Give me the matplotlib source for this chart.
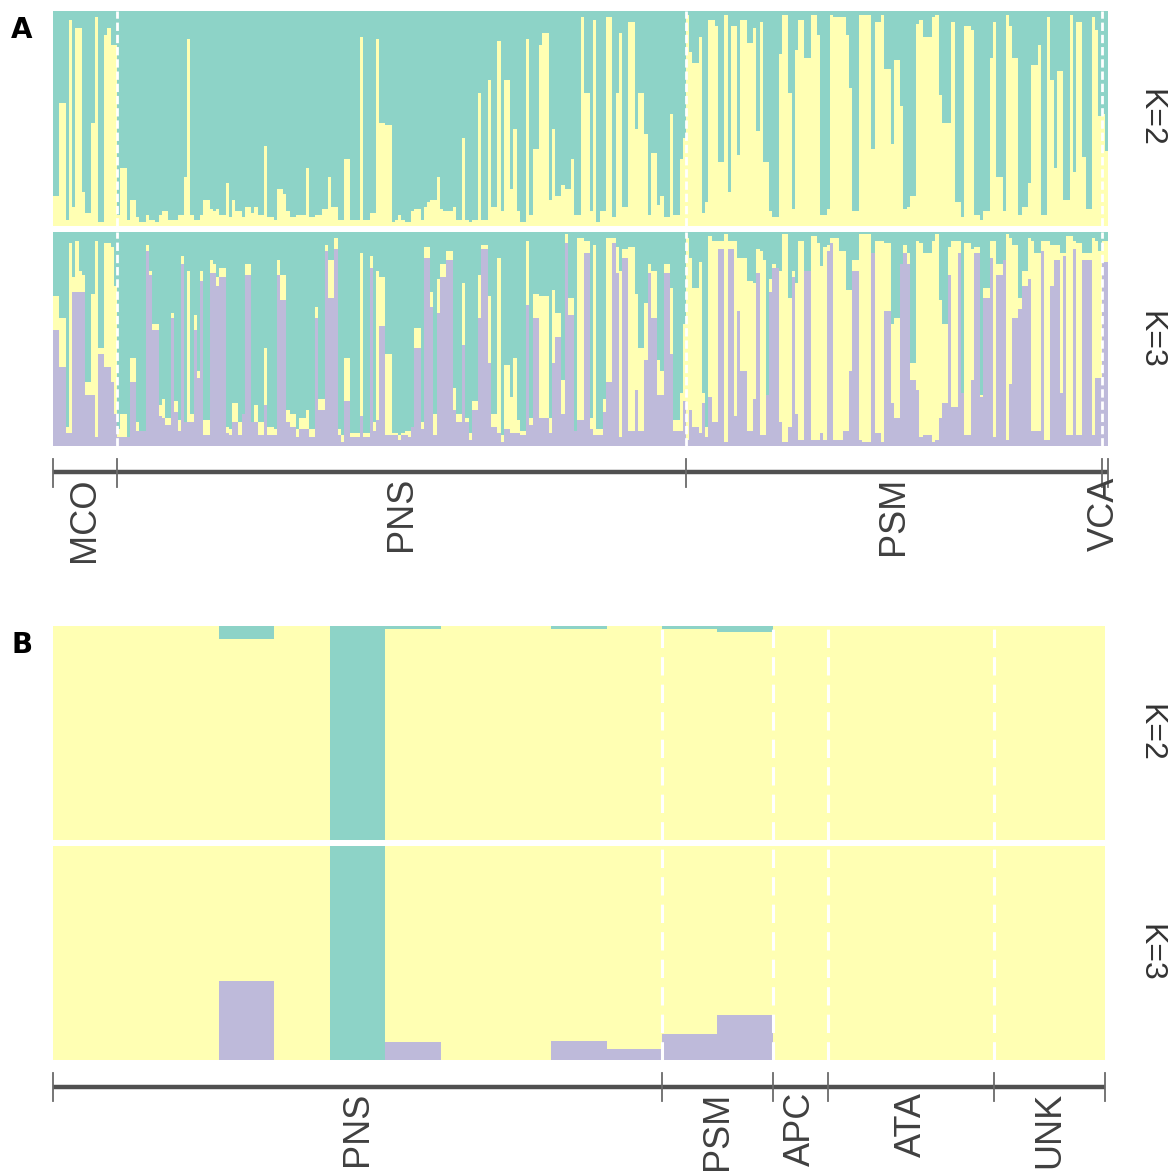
import numpy as np
import matplotlib
matplotlib.use("Agg")
import matplotlib.pyplot as plt

plt.rcParams["font.family"] = ["Liberation Sans", "DejaVu Sans"]

TEAL, YELLOW, PURPLE = "#8DD3C7", "#FFFFB3", "#BEBADA"

# ---------------- Panel A: individuals -----------------
pops_a = ["MCO", "PNS", "PSM", "VCA"]
sizes_a = [20, 178, 130, 2]

# K=2: ancestry proportion of the yellow cluster (teal = remainder)
k2_yellow_a = [
    # MCO
    0.14, 0.14, 0.57, 0.57, 0.03, 0.96, 0.09, 0.92, 0.92, 0.16, 0.06, 0.06, 0.48, 0.97, 0.02, 0.02, 0.89, 0.92, 0.84, 0.84,
    # PNS
    0.05, 0.27, 0.27, 0.03, 0.12, 0.12, 0.04, 0.02, 0.02, 0.05, 0.03, 0.03, 0.02, 0.05, 0.07, 0.07, 0.03, 0.03, 0.03, 0.05,
    0.05, 0.23, 0.87, 0.05, 0.03, 0.03, 0.05, 0.12, 0.12, 0.08, 0.07, 0.08, 0.05, 0.05, 0.20, 0.04,
    0.12, 0.07, 0.07, 0.04, 0.09, 0.09, 0.06, 0.09, 0.05, 0.05, 0.37, 0.04, 0.04, 0.03, 0.17, 0.17, 0.15, 0.07, 0.04, 0.04,
    0.05, 0.05, 0.05, 0.27, 0.04, 0.04, 0.05, 0.05, 0.08, 0.08, 0.23, 0.09, 0.09, 0.03, 0.03, 0.31, 0.31, 0.03, 0.03, 0.03,
    0.88, 0.03, 0.03, 0.06, 0.06, 0.87, 0.48, 0.48, 0.47, 0.47, 0.02, 0.03, 0.05, 0.03,
    0.02, 0.02, 0.07, 0.08, 0.08, 0.03, 0.09, 0.11, 0.12, 0.12, 0.23, 0.08, 0.07, 0.07, 0.07, 0.09, 0.03, 0.03, 0.41, 0.03,
    0.02, 0.03, 0.03, 0.62, 0.03, 0.03, 0.68, 0.09, 0.09, 0.86, 0.07, 0.68, 0.68, 0.17, 0.45, 0.07, 0.02, 0.02, 0.87, 0.05,
    0.36, 0.36, 0.84, 0.90, 0.90, 0.12, 0.45, 0.14, 0.14, 0.19, 0.17, 0.17, 0.31, 0.05, 0.05, 0.97,
    0.62, 0.62, 0.07, 0.96, 0.02, 0.07, 0.07, 0.97, 0.97, 0.04, 0.62, 0.90, 0.09, 0.09, 0.95, 0.95, 0.45, 0.62, 0.62, 0.43,
    0.05, 0.34, 0.34, 0.10, 0.14, 0.04, 0.04, 0.52, 0.05, 0.05, 0.31, 0.41,
    # PSM
    0.98, 0.81, 0.76, 0.76, 0.88, 0.06, 0.11, 0.96, 0.96, 0.93, 0.30, 0.30, 0.98, 0.16, 0.93, 0.93, 0.33, 0.96, 0.96, 0.85,
    0.85, 0.92,
    0.44, 0.95, 0.30, 0.30, 0.07, 0.04, 0.04, 0.80, 0.98, 0.98, 0.62, 0.08, 0.82, 0.96, 0.96, 0.78, 0.78, 0.98, 0.98, 0.89,
    0.05, 0.05, 0.08, 0.98, 0.97, 0.97, 0.97, 0.97, 0.89, 0.64, 0.07, 0.07, 0.98, 0.98, 0.98, 0.98, 0.36, 0.95, 0.95, 0.98,
    0.73, 0.73, 0.38, 0.77, 0.77, 0.56, 0.08, 0.09, 0.14, 0.14, 0.94, 0.96, 0.88, 0.88, 0.88,
    0.97, 0.98, 0.61, 0.48, 0.48, 0.48, 0.95, 0.11, 0.11, 0.04, 0.93, 0.93, 0.91, 0.05, 0.05, 0.03, 0.07, 0.07, 0.78, 0.95,
    0.23, 0.23, 0.07, 0.98, 0.93, 0.78, 0.78, 0.05, 0.09, 0.09, 0.20, 0.75, 0.75, 0.84, 0.05, 0.05, 0.97, 0.68, 0.27, 0.72,
    0.72, 0.12, 0.12, 0.98, 0.25, 0.95, 0.95, 0.32, 0.08, 0.08, 0.97, 0.91, 0.51,
    # VCA
    0.52, 0.35,
]

# K=3: purple cluster proportion, and purple + yellow cumulative (teal = remainder)
k3_purple_a = [
    # MCO
    0.54, 0.54, 0.37, 0.37, 0.06, 0.06, 0.72, 0.72, 0.72, 0.72, 0.24, 0.24, 0.24, 0.04, 0.43, 0.43, 0.37, 0.37, 0.30, 0.15,
    # PNS
    0.04, 0.04, 0.04, 0.04, 0.30, 0.30, 0.07, 0.07, 0.07, 0.91, 0.80, 0.54, 0.54, 0.14, 0.13, 0.10, 0.10, 0.60, 0.16, 0.07,
    0.85, 0.11, 0.11, 0.11, 0.54, 0.32, 0.77, 0.05, 0.05, 0.81, 0.81, 0.75, 0.79, 0.79, 0.06, 0.05,
    0.11, 0.11, 0.05, 0.15, 0.80, 0.80, 0.11, 0.11, 0.05, 0.05, 0.19, 0.05, 0.05, 0.05, 0.80, 0.68, 0.68, 0.11, 0.09, 0.09,
    0.04, 0.08, 0.08, 0.08, 0.04, 0.04, 0.60, 0.17, 0.17, 0.91, 0.69, 0.69, 0.92, 0.05, 0.02, 0.21, 0.21, 0.04, 0.04, 0.04,
    0.14, 0.04, 0.04, 0.83, 0.07, 0.12, 0.56, 0.56, 0.05, 0.05, 0.05, 0.05, 0.03, 0.05,
    0.05, 0.04, 0.09, 0.46, 0.46, 0.08, 0.88, 0.88, 0.65, 0.05, 0.62, 0.79, 0.79, 0.87, 0.87, 0.17, 0.11, 0.11, 0.47, 0.11,
    0.03, 0.17, 0.17, 0.60, 0.92, 0.92, 0.39, 0.09, 0.09, 0.06, 0.02, 0.08, 0.08, 0.06, 0.06, 0.06, 0.05, 0.05, 0.66, 0.10,
    0.60, 0.60, 0.13, 0.13, 0.13, 0.06, 0.39, 0.51, 0.51, 0.15, 0.95, 0.61, 0.61, 0.07, 0.12, 0.12,
    0.90, 0.90, 0.08, 0.05, 0.05, 0.05, 0.16, 0.30, 0.30, 0.95, 0.81, 0.04, 0.88, 0.88, 0.07, 0.07, 0.26, 0.07, 0.07, 0.40,
    0.81, 0.60, 0.60, 0.24, 0.24, 0.81, 0.81, 0.43, 0.07, 0.07, 0.07, 0.21,
    # PSM
    0.03, 0.17, 0.09, 0.09, 0.06, 0.20, 0.04, 0.23, 0.11, 0.11, 0.92, 0.92, 0.02, 0.92, 0.92, 0.14, 0.63, 0.35, 0.35, 0.07,
    0.07, 0.22,
    0.81, 0.05, 0.05, 0.24, 0.72, 0.83, 0.83, 0.11, 0.02, 0.02, 0.09, 0.79, 0.15, 0.03, 0.03, 0.82, 0.82, 0.03, 0.03, 0.03,
    0.06, 0.03, 0.91, 0.95, 0.03, 0.03, 0.03, 0.07, 0.07, 0.35, 0.82, 0.82, 0.03, 0.02, 0.02, 0.02, 0.90, 0.06, 0.06, 0.02,
    0.63, 0.63, 0.20, 0.13, 0.13, 0.85, 0.90, 0.85, 0.31, 0.31, 0.26, 0.04, 0.05, 0.05, 0.05,
    0.02, 0.03, 0.13, 0.20, 0.20, 0.80, 0.18, 0.18, 0.90, 0.25, 0.05, 0.05, 0.31, 0.90, 0.90, 0.23, 0.69, 0.69, 0.88, 0.04,
    0.80, 0.80, 0.87, 0.03, 0.29, 0.60, 0.60, 0.64, 0.75, 0.75, 0.78, 0.07, 0.07, 0.07, 0.91, 0.03, 0.03, 0.75, 0.87, 0.87,
    0.25, 0.89, 0.05, 0.05, 0.92, 0.05, 0.05, 0.87, 0.87, 0.87, 0.05, 0.32, 0.32,
    # VCA
    0.86, 0.86,
]

k3_purple_yellow_a = [
    # MCO
    0.70, 0.70, 0.60, 0.60, 0.09, 0.95, 0.79, 0.96, 0.82, 0.80, 0.30, 0.30, 0.71, 0.96, 0.46, 0.46, 0.95, 0.95, 0.93, 0.75,
    # PNS
    0.08, 0.15, 0.15, 0.04, 0.41, 0.41, 0.11, 0.07, 0.07, 0.94, 0.82, 0.57, 0.57, 0.19, 0.22, 0.13, 0.13, 0.62, 0.21, 0.12,
    0.89, 0.11, 0.82, 0.15, 0.61, 0.35, 0.82, 0.12, 0.12, 0.87, 0.85, 0.79, 0.83, 0.83, 0.09, 0.08,
    0.20, 0.20, 0.11, 0.15, 0.85, 0.85, 0.11, 0.19, 0.11, 0.11, 0.46, 0.09, 0.09, 0.08, 0.87, 0.80, 0.80, 0.17, 0.15, 0.15,
    0.08, 0.13, 0.13, 0.17, 0.08, 0.08, 0.65, 0.22, 0.22, 0.94, 0.87, 0.87, 0.97, 0.08, 0.05, 0.41, 0.41, 0.06, 0.06, 0.06,
    0.90, 0.06, 0.06, 0.89, 0.11, 0.82, 0.79, 0.79, 0.43, 0.43, 0.06, 0.06, 0.05, 0.06,
    0.07, 0.07, 0.09, 0.55, 0.55, 0.11, 0.93, 0.93, 0.72, 0.15, 0.78, 0.85, 0.85, 0.91, 0.91, 0.27, 0.15, 0.15, 0.76, 0.13,
    0.06, 0.21, 0.21, 0.80, 0.94, 0.94, 0.70, 0.15, 0.15, 0.88, 0.05, 0.38, 0.38, 0.23, 0.41, 0.12, 0.07, 0.07, 0.96, 0.13,
    0.71, 0.71, 0.70, 0.70, 0.70, 0.13, 0.73, 0.62, 0.62, 0.31, 0.99, 0.69, 0.69, 0.07, 0.97, 0.97,
    0.96, 0.96, 0.13, 0.94, 0.08, 0.08, 0.22, 0.97, 0.97, 0.97, 0.93, 0.82, 0.92, 0.92, 0.93, 0.93, 0.71, 0.46, 0.46, 0.67,
    0.85, 0.82, 0.82, 0.40, 0.35, 0.85, 0.85, 0.74, 0.12, 0.12, 0.25, 0.57,
    # PSM
    0.97, 0.88, 0.74, 0.74, 0.86, 0.25, 0.09, 0.98, 0.96, 0.96, 0.96, 0.96, 0.99, 0.96, 0.96, 0.96, 0.88, 0.88, 0.88, 0.77,
    0.77, 0.76,
    0.92, 0.91, 0.87, 0.24, 0.78, 0.85, 0.83, 0.82, 0.99, 0.99, 0.69, 0.82, 0.76, 0.96, 0.96, 0.82, 0.82, 0.98, 0.98, 0.95,
    0.84, 0.93, 0.94, 0.97, 0.97, 0.97, 0.91, 0.91, 0.73, 0.73, 0.87, 0.87, 0.99, 0.99, 0.99, 0.99, 0.90, 0.96, 0.96, 0.96,
    0.95, 0.95, 0.57, 0.60, 0.60, 0.85, 0.94, 0.90, 0.39, 0.39, 0.96, 0.95, 0.90, 0.90, 0.90,
    0.96, 0.99, 0.68, 0.57, 0.57, 0.93, 0.96, 0.96, 0.96, 0.25, 0.95, 0.95, 0.92, 0.93, 0.93, 0.24, 0.74, 0.74, 0.96, 0.96,
    0.85, 0.85, 0.87, 0.99, 0.97, 0.94, 0.94, 0.69, 0.82, 0.82, 0.97, 0.96, 0.90, 0.90, 0.96, 0.96, 0.96, 0.94, 0.94, 0.94,
    0.90, 0.90, 0.98, 0.98, 0.96, 0.95, 0.95, 0.90, 0.90, 0.90, 0.97, 0.96, 0.91,
    # VCA
    0.96, 0.96,
]

# ---------------- Panel B: pooled samples -----------------
pops_b = ["PNS", "PSM", "APC", "ATA", "UNK"]
sizes_b = [11, 2, 1, 3, 2]
k2_teal_b = [0, 0, 0, 0.06, 0, 1.0, 0.015, 0, 0, 0.015, 0, 0.015, 0.03, 0, 0, 0, 0, 0, 0]
k3_purple_b = [0, 0, 0, 0.37, 0, 0, 0.085, 0, 0, 0.09, 0.05, 0.12, 0.21, 0, 0, 0, 0, 0, 0]
k3_teal_b = [0, 0, 0, 0, 0, 1.0, 0, 0, 0, 0, 0, 0, 0, 0, 0, 0, 0, 0, 0]

# ---------------- figure -----------------
W, H = 1174, 1171
fig = plt.figure(figsize=(W / 100, H / 100), dpi=100)


def add_ax(x0, y0, x1, y1):
    return fig.add_axes([x0 / W, 1 - y1 / H, (x1 - x0) / W, (y1 - y0) / H])


def stack(ax, layers, n):
    x = np.arange(n)
    bottom = np.zeros(n)
    for vals, col in layers:
        vals = np.asarray(vals, float)
        ax.bar(x, vals, bottom=bottom, width=1.0, color=col, linewidth=0, align="center")
        bottom = bottom + vals
    ax.set_xlim(-0.5, n - 0.5)
    ax.set_ylim(0, 1)
    ax.axis("off")


def separators(ax, sizes, dashes, lw):
    for b in np.cumsum(sizes)[:-1] - 0.5:
        ax.axvline(b, color="white", lw=lw, linestyle=(0, dashes))


def group_axis(x0, x1, y0, y1, sizes, names, y_line, tick_top, tick_bot, y_text, fs):
    n = sum(sizes)
    ax = add_ax(x0, y0, x1, y1)
    ax.set_xlim(-0.5, n - 0.5)
    ax.set_ylim(y1, y0)
    ax.axis("off")
    edges = np.concatenate([[0], np.cumsum(sizes)]) - 0.5
    ax.plot([edges[0], edges[-1]], [y_line, y_line], color="#505050", lw=3.2,
            solid_capstyle="butt", clip_on=False)
    for e in edges:
        ax.plot([e, e], [tick_top, tick_bot], color="#6a6a6a", lw=1.3, clip_on=False)
    for i, name in enumerate(names):
        c = (edges[i] + edges[i + 1]) / 2
        ax.text(c, y_text, name, rotation=90, ha="center", va="top",
                fontsize=fs, color="#404040", clip_on=False)


def k_label(y, text):
    fig.text(1150 / W, 1 - y / H, text, rotation=-90, ha="center", va="center",
             fontsize=23, color="#333333")


# Panel A
n_a = sum(sizes_a)
y2 = np.asarray(k2_yellow_a)
axA2 = add_ax(53, 11, 1108, 226)
stack(axA2, [(y2, YELLOW), (1 - y2, TEAL)], n_a)
separators(axA2, sizes_a, (3.0, 1.4), 2.0)

p3 = np.asarray(k3_purple_a)
py3 = np.asarray(k3_purple_yellow_a)
axA3 = add_ax(53, 232, 1108, 446)
stack(axA3, [(p3, PURPLE), (py3 - p3, YELLOW), (1 - py3, TEAL)], n_a)
separators(axA3, sizes_a, (3.0, 1.4), 2.0)

group_axis(53, 1108, 452, 575, sizes_a, pops_a, 472, 459, 487, 477, 26)
k_label(118, "K=2")
k_label(340, "K=3")

# Panel B
n_b = sum(sizes_b)
t2 = np.asarray(k2_teal_b)
axB2 = add_ax(53, 626, 1105, 840)
stack(axB2, [(1 - t2, YELLOW), (t2, TEAL)], n_b)
separators(axB2, sizes_b, (6, 3), 2.2)

pb = np.asarray(k3_purple_b)
tb = np.asarray(k3_teal_b)
axB3 = add_ax(53, 846, 1105, 1060)
stack(axB3, [(pb, PURPLE), (1 - pb - tb, YELLOW), (tb, TEAL)], n_b)
separators(axB3, sizes_b, (6, 3), 2.2)

group_axis(53, 1105, 1066, 1171, sizes_b, pops_b, 1087, 1073, 1101, 1092, 26)
k_label(733, "K=2")
k_label(953, "K=3")

# Panel letters
fig.text(22 / W, 1 - 30 / H, "A", ha="center", va="center", fontsize=20,
         fontweight="bold", family="DejaVu Sans")
fig.text(22 / W, 1 - 645 / H, "B", ha="center", va="center", fontsize=20,
         fontweight="bold", family="DejaVu Sans")

fig.savefig("out.png", dpi=100, facecolor="white")
